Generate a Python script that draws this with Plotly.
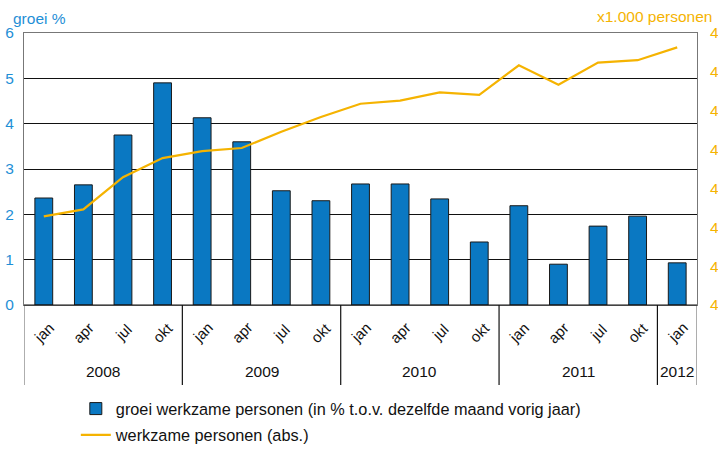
import plotly.graph_objects as go

months = ["jan", "apr", "jul", "okt"] * 4 + ["jan"]
years = ["2008", "2009", "2010", "2011", "2012"]
year_counts = [4, 4, 4, 4, 1]
groei = [2.36, 2.65, 3.75, 4.9, 4.13, 3.6, 2.52, 2.3, 2.67, 2.67, 2.34, 1.39,
         2.19, 0.9, 1.74, 1.96, 0.93]
werkzaam = [4228, 4246, 4329, 4378, 4396, 4404, 4446, 4484, 4518, 4526, 4547,
            4541, 4617, 4567, 4624, 4630, 4663]
left_ticks = [0, 1, 2, 3, 4, 5, 6]
right_ticks = [4000, 4100, 4200, 4300, 4400, 4500, 4600, 4700]
right_ticktext = ["4"] * len(right_ticks)

BLUE = "#0a78c2"
LBLUE = "#1f8fd6"
ORANGE = "#f5b301"

x = list(range(len(groei)))

fig = go.Figure()
fig.add_trace(go.Bar(
    x=x, y=groei, width=0.45, name="groei werkzame personen (in % t.o.v. dezelfde maand vorig jaar)",
    marker=dict(color=BLUE, line=dict(color="#1a1a1a", width=1)),
    legendgroup="a", yaxis="y"))
fig.add_trace(go.Scatter(
    x=x, y=werkzaam, mode="lines", name="werkzame personen (abs.)",
    line=dict(color=ORANGE, width=2.2), legendgroup="b", yaxis="y2"))

ann = []
for i, m in enumerate(months):
    ann.append(dict(x=i, y=-0.1, xref="x", yref="paper", text=m, showarrow=False,
                    textangle=-45, font=dict(size=15, color="#111"),
                    xanchor="center", yanchor="middle"))
shapes = []
start = 0
for yr, c in zip(years, year_counts):
    ann.append(dict(x=start + (c - 1) / 2, y=-0.246, xref="x", yref="paper", text=yr,
                    showarrow=False, font=dict(size=15.5, color="#111"),
                    xanchor="center", yanchor="middle"))
    start += c
bounds = [-0.5]
s = -0.5
for c in year_counts:
    s += c
    bounds.append(s)
for i, b in enumerate(bounds):
    col = "#777" if i in (0, len(bounds) - 1) else "#111"
    shapes.append(dict(type="line", xref="x", yref="paper", x0=b, x1=b, y0=0, y1=-0.294,
                       line=dict(color=col, width=1.2)))
shapes.append(dict(type="line", xref="paper", yref="paper", x0=0, x1=1, y0=0, y1=0,
                   line=dict(color="#111", width=1.2)))

ann.append(dict(x=0, y=1.0, xref="paper", yref="paper", text="groei %", showarrow=False,
                xanchor="left", yanchor="bottom", xshift=-13, yshift=4,
                font=dict(size=15.5, color=LBLUE)))
ann.append(dict(x=1, y=1.0, xref="paper", yref="paper", text="x1.000 personen", showarrow=False,
                xanchor="right", yanchor="bottom", xshift=17, yshift=6,
                font=dict(size=15.5, color=ORANGE)))

fig.update_layout(
    width=718, height=450,
    margin=dict(l=24, r=21, t=33, b=145, autoexpand=False),
    paper_bgcolor="white", plot_bgcolor="white",
    font=dict(family="Liberation Sans, Arial, sans-serif"),
    bargap=0.5,
    xaxis=dict(range=[-0.5, len(groei) - 0.5], showticklabels=False, showgrid=False,
               zeroline=False, showline=True, linecolor="#777", mirror=True, ticks="",
               automargin=False),
    yaxis=dict(range=[0, 6], tickvals=left_ticks, showgrid=True, gridcolor="#111",
               gridwidth=1, zeroline=False, showline=True, linecolor="#777",
               tickfont=dict(size=15.5, color=LBLUE), ticks="", ticklabelstandoff=6,
               automargin=False),
    yaxis2=dict(range=[4000, 4700], tickvals=right_ticks, ticktext=right_ticktext,
                overlaying="y", side="right", showgrid=False, zeroline=False,
                showline=True, linecolor="#777", automargin=False,
                tickfont=dict(size=15.5, color=ORANGE), ticks="", ticklabelstandoff=9),
    legend=dict(x=0.077, y=-0.318, xanchor="left", yanchor="top", orientation="v",
                traceorder="grouped", tracegroupgap=2, font=dict(size=16.3, color="#111"),
                bgcolor="rgba(0,0,0,0)", itemwidth=30),
    annotations=ann, shapes=shapes,
)
fig.write_html("out.html", config={"displayModeBar": False},
               post_script="document.body.style.margin='0';document.body.style.overflow='hidden';")
